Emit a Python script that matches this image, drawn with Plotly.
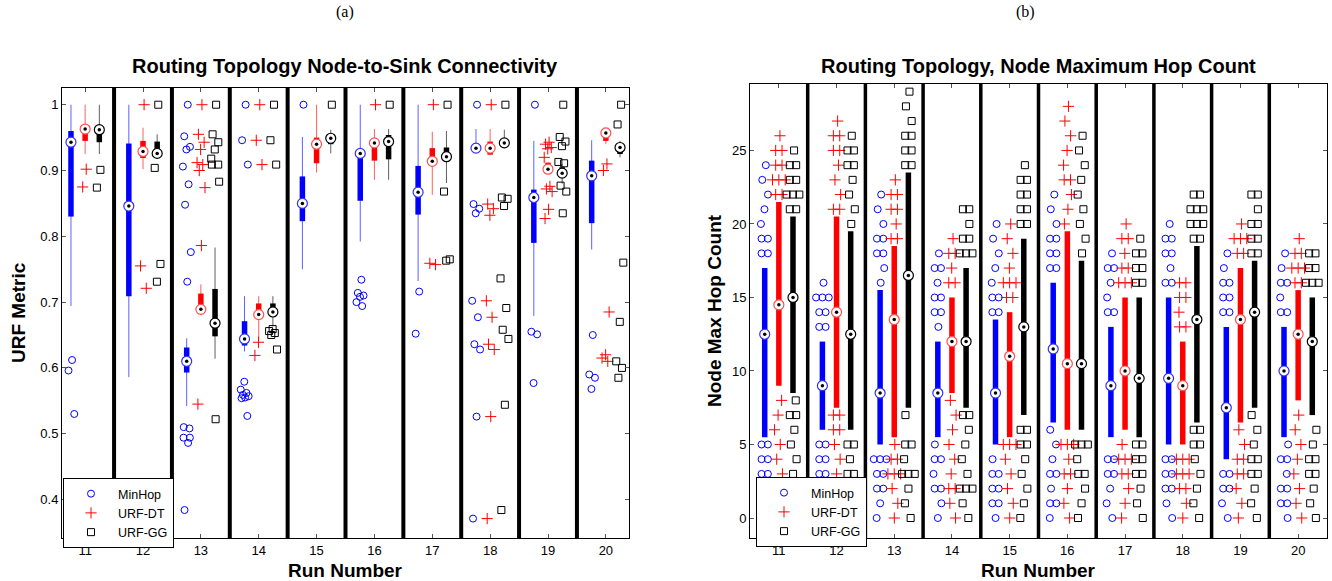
import plotly.graph_objects as go

# ---------------- data ----------------
categories = [11, 12, 13, 14, 15, 16, 17, 18, 19, 20]
series_names = ["MinHop", "URF-DT", "URF-GG"]

# Panel (a): URF metric box statistics
a_minhop_upper = [1.0, 1.0, 0.645, 0.709, 0.951, 1.0, 1.0, 0.963, 0.945, 0.946]
a_minhop_q3 = [0.960, 0.941, 0.631, 0.671, 0.891, 0.926, 0.907, 0.941, 0.871, 0.915]
a_minhop_med = [0.943, 0.846, 0.610, 0.644, 0.850, 0.926, 0.867, 0.934, 0.859, 0.892]
a_minhop_q1 = [0.830, 0.709, 0.593, 0.634, 0.823, 0.854, 0.833, 0.929, 0.790, 0.820]
a_minhop_lower = [0.694, 0.586, 0.542, 0.625, 0.750, 0.792, 0.732, 0.929, 0.679, 0.780]
a_minhop_out = [
    [0.612, 0.596, 0.530],
    [],
    [1.0, 0.952, 0.936, 0.932, 0.906, 0.879, 0.848, 0.776, 0.731, 0.510, 0.508, 0.494, 0.494, 0.486, 0.384],
    [1.0, 0.946, 0.909, 0.579, 0.567, 0.562, 0.559, 0.557, 0.555, 0.554, 0.527],
    [1.0],
    [0.734, 0.714, 0.710, 0.708, 0.700, 0.694],
    [0.716, 0.652],
    [1.0, 0.849, 0.842, 0.835, 0.702, 0.677, 0.636, 0.628, 0.526, 0.371],
    [1.0, 0.655, 0.651, 0.577],
    [0.650, 0.590, 0.585, 0.568],
]

a_dt_upper = [1.0, 0.965, 0.727, 0.709, 1.0, 0.963, 0.959, 0.963, 0.912, 0.965]
a_dt_q3 = [0.968, 0.945, 0.713, 0.698, 0.950, 0.949, 0.934, 0.944, 0.912, 0.965]
a_dt_med = [0.963, 0.929, 0.689, 0.681, 0.940, 0.942, 0.914, 0.934, 0.902, 0.957]
a_dt_q1 = [0.945, 0.919, 0.688, 0.681, 0.911, 0.915, 0.910, 0.924, 0.898, 0.945]
a_dt_lower = [0.925, 0.902, 0.680, 0.642, 0.897, 0.886, 0.863, 0.924, 0.898, 0.940]
a_dt_out = [
    [0.902, 0.875],
    [1.0, 0.755, 0.721],
    [1.0, 0.955, 0.943, 0.932, 0.912, 0.909, 0.900, 0.874, 0.786, 0.545],
    [1.0, 0.946, 0.909, 0.639, 0.619],
    [],
    [1.0],
    [1.0, 0.759, 0.757],
    [1.0, 0.849, 0.842, 0.832, 0.702, 0.677, 0.636, 0.628, 0.526, 0.371],
    [0.943, 0.940, 0.935, 0.933, 0.920, 0.876, 0.872, 0.868, 0.841, 0.827],
    [0.910, 0.900, 0.685, 0.620, 0.615, 0.610],
]

a_gg_upper = [1.0, 0.955, 0.783, 0.709, 0.962, 0.963, 0.960, 0.962, 0.910, 0.945]
a_gg_q3 = [0.968, 0.944, 0.720, 0.698, 0.951, 0.954, 0.935, 0.945, 0.905, 0.940]
a_gg_med = [0.962, 0.926, 0.668, 0.685, 0.949, 0.944, 0.921, 0.942, 0.896, 0.935]
a_gg_q1 = [0.943, 0.926, 0.648, 0.684, 0.940, 0.917, 0.914, 0.940, 0.890, 0.925]
a_gg_lower = [0.925, 0.926, 0.614, 0.663, 0.926, 0.886, 0.881, 0.938, 0.880, 0.920]
a_gg_out = [
    [0.901, 0.874],
    [1.0, 0.904, 0.758, 0.731],
    [1.0, 0.955, 0.943, 0.932, 0.918, 0.909, 0.909, 0.883, 0.522],
    [1.0, 0.946, 0.909, 0.659, 0.656, 0.653, 0.650, 0.628],
    [1.0],
    [1.0],
    [1.0, 0.868, 0.765, 0.763],
    [1.0, 0.859, 0.857, 0.846, 0.736, 0.691, 0.658, 0.644, 0.544, 0.384],
    [1.0, 0.951, 0.944, 0.937, 0.913, 0.911, 0.877, 0.868, 0.835],
    [1.0, 0.970, 0.760, 0.670, 0.610, 0.600, 0.585],
]

# Panel (b): node max hop count box statistics
b_minhop_q3 = [17, 12, 15.5, 12, 13.5, 16, 13, 15, 13, 13]
b_minhop_med = [12.5, 9, 8.5, 8.5, 8.5, 11.5, 9, 9.5, 7.5, 10]
b_minhop_q1 = [5.5, 6, 5, 5.5, 5, 6.5, 5.5, 5, 4, 5.5]
b_minhop_out = [
    [24, 23, 22, 21, 20, 19, 19, 18, 18, 5, 5, 4, 4, 3, 3],
    [16, 15, 15, 15, 14, 14, 13, 13, 5, 5, 4, 4, 3, 3],
    [22, 21, 20, 19, 19, 18, 18, 17, 16, 4, 4, 4, 3, 3, 2, 2, 1, 0],
    [18, 17, 17, 16, 15, 15, 14, 14, 13, 5, 4, 4, 3, 2, 2, 1, 0],
    [20, 19, 18, 17, 16, 15, 15, 14, 14, 4, 3, 3, 2, 2, 1, 1, 0],
    [22, 21, 20, 19, 19, 18, 18, 17, 17, 6, 5, 4, 3, 3, 2, 1, 1, 0],
    [18, 17, 17, 16, 15, 14, 14, 4, 4, 3, 3, 2, 1, 0],
    [20, 19, 19, 18, 18, 17, 16, 16, 4, 4, 3, 3, 2, 2, 1, 0],
    [18, 17, 16, 16, 15, 15, 14, 14, 3, 3, 2, 2, 1, 0],
    [18, 17, 16, 16, 15, 14, 14, 5, 4, 4, 3, 2, 2, 1, 1, 0],
]

b_dt_q3 = [21.5, 20.5, 18.5, 15, 14, 19.5, 15, 12, 17, 15.5]
b_dt_med = [14.5, 14, 13.5, 12, 11, 10.5, 10, 9, 13.5, 12.5]
b_dt_q1 = [9, 7.5, 5.5, 8.5, 5.5, 6, 6, 5, 6.5, 8]
b_dt_out = [
    [26, 25, 25, 24, 24, 23, 23, 23, 22, 22, 8, 7, 6, 5, 4, 3],
    [27, 26, 26, 25, 25, 24, 23, 22, 21, 21, 7, 7, 6, 6, 5, 4, 3],
    [23, 22, 22, 21, 21, 20, 19, 19, 5, 4, 4, 3, 3, 3, 2, 1, 0],
    [19, 18, 18, 17, 16, 16, 8, 7, 6, 5, 4, 3, 2, 2, 1, 0],
    [20, 19, 18, 17, 16, 16, 16, 15, 15, 5, 5, 5, 4, 3, 2, 1, 0],
    [28, 27, 26, 25, 24, 23, 23, 22, 21, 20, 5, 5, 5, 4, 3, 3, 2, 1, 0],
    [20, 19, 19, 18, 17, 17, 16, 16, 16, 5, 4, 4, 4, 3, 3, 2, 1, 0],
    [16, 16, 15, 15, 14, 13, 13, 4, 4, 4, 3, 3, 3, 2, 2, 1, 0],
    [20, 19, 19, 19, 18, 18, 6, 5, 4, 4, 3, 3, 2, 1, 0],
    [19, 18, 18, 17, 17, 17, 16, 16, 7, 6, 5, 4, 3, 2, 1, 0],
]

b_gg_q3 = [20.5, 19.5, 23.5, 17, 19, 17.5, 15, 18.5, 17.5, 15]
b_gg_med = [15, 12.5, 16.5, 12, 13, 10.5, 9.5, 13.5, 14, 12]
b_gg_q1 = [8.5, 6, 7.5, 7.5, 7, 6, 5.5, 6.5, 7.5, 7]
b_gg_out = [
    [25, 24, 24, 23, 23, 22, 22, 22, 21, 21, 8, 7, 7, 6, 5, 4, 3],
    [26, 25, 25, 24, 24, 23, 22, 21, 20, 5, 5, 4, 3, 3],
    [29, 28, 27, 26, 26, 25, 25, 24, 24, 7, 5, 5, 4, 3, 3, 3, 2, 1, 0],
    [21, 21, 20, 19, 19, 18, 18, 18, 7, 7, 6, 5, 4, 3, 2, 2, 2, 1, 0],
    [24, 23, 23, 22, 22, 21, 21, 20, 20, 6, 6, 5, 5, 4, 3, 2, 1, 0],
    [26, 25, 24, 23, 22, 21, 20, 19, 18, 5, 5, 5, 4, 3, 3, 2, 1, 0],
    [19, 18, 18, 17, 17, 16, 16, 5, 5, 4, 4, 3, 3, 2, 1, 0],
    [22, 22, 21, 21, 21, 20, 20, 20, 19, 19, 6, 6, 5, 5, 4, 3, 2, 1, 0],
    [22, 22, 21, 20, 20, 19, 19, 18, 18, 7, 6, 5, 4, 4, 3, 3, 2, 1, 0],
    [18, 18, 17, 17, 16, 16, 16, 6, 5, 4, 4, 3, 3, 2, 1, 0],
]

# ---------------- styling ----------------
W, H = 1332, 581
FONT = "Arial, 'Liberation Sans', sans-serif"
SERIF = "'Times New Roman', 'Liberation Serif', serif"
colors = {"MinHop": "#0000ff", "URF-DT": "#ff0000", "URF-GG": "#000000"}
whisker_colors = {"MinHop": "#6060ff", "URF-DT": "#ff6060", "URF-GG": "#606060"}
ring_colors = {"MinHop": "#3030ff", "URF-DT": "#ff5050", "URF-GG": "#000000"}
symbols = {"MinHop": "circle-open", "URF-DT": "cross-thin", "URF-GG": "square-open"}
offsets = {"MinHop": -0.245, "URF-DT": 0.0, "URF-GG": 0.245}

panel_a = {
    "MinHop": (a_minhop_upper, a_minhop_q3, a_minhop_med, a_minhop_q1, a_minhop_lower, a_minhop_out),
    "URF-DT": (a_dt_upper, a_dt_q3, a_dt_med, a_dt_q1, a_dt_lower, a_dt_out),
    "URF-GG": (a_gg_upper, a_gg_q3, a_gg_med, a_gg_q1, a_gg_lower, a_gg_out),
}
panel_b = {
    "MinHop": (None, b_minhop_q3, b_minhop_med, b_minhop_q1, None, b_minhop_out),
    "URF-DT": (None, b_dt_q3, b_dt_med, b_dt_q1, None, b_dt_out),
    "URF-GG": (None, b_gg_q3, b_gg_med, b_gg_q1, None, b_gg_out),
}


def spread(values, base):
    counts = {}
    for v in values:
        counts[v] = counts.get(v, 0) + 1
    seen = {}
    xs = []
    for i, v in enumerate(values):
        n = counts[v]
        j = seen.get(v, 0)
        seen[v] = j + 1
        if n > 1:
            off = (j - (n - 1) / 2) * 0.11
        else:
            off = (((i + 1) * 0.618034) % 1 - 0.5) * 0.16
        xs.append(base + off)
    return xs


fig = go.Figure()


def add_panel(data, xa, ya, legend, box_w):
    for name in series_names:
        upper, q3, med, q1, lower, outs = data[name]
        off = offsets[name]
        if upper is not None:
            wx, wy = [], []
            for c, u, l in zip(categories, upper, lower):
                wx += [c + off, c + off, None]
                wy += [u, l, None]
            fig.add_trace(go.Scatter(x=wx, y=wy, mode="lines", xaxis=xa, yaxis=ya,
                                     line=dict(color=whisker_colors[name], width=1),
                                     showlegend=False, hoverinfo="skip"))
        bx, by = [], []
        for c, a, b in zip(categories, q3, q1):
            bx += [c + off, c + off, None]
            by += [a, b, None]
        fig.add_trace(go.Scatter(x=bx, y=by, mode="lines", xaxis=xa, yaxis=ya,
                                 line=dict(color=colors[name], width=box_w),
                                 showlegend=False, hoverinfo="skip"))
        ox, oy = [], []
        for c, vals in zip(categories, outs):
            ox += spread(vals, c + off)
            oy += vals
        mk = dict(symbol=symbols[name], size=7, color=colors[name],
                  line=dict(width=1, color=colors[name]))
        if name == "URF-DT":
            mk["size"] = 8
        fig.add_trace(go.Scatter(x=ox, y=oy, mode="markers", xaxis=xa, yaxis=ya,
                                 marker=mk, name=name, legend=legend,
                                 showlegend=True, hoverinfo="skip"))
        mx = [c + off for c in categories]
        fig.add_trace(go.Scatter(x=mx, y=med, mode="markers", xaxis=xa, yaxis=ya,
                                 marker=dict(symbol="circle", size=10, color="white",
                                             line=dict(width=1.2, color=ring_colors[name])),
                                 showlegend=False, hoverinfo="skip"))
        fig.add_trace(go.Scatter(x=mx, y=med, mode="markers", xaxis=xa, yaxis=ya,
                                 marker=dict(symbol="circle", size=3.5, color="black"),
                                 showlegend=False, hoverinfo="skip"))


add_panel(panel_a, "x", "y", "legend", 5.5)
add_panel(panel_b, "x2", "y2", "legend2", 5.5)

for c in categories[:-1]:
    fig.add_shape(type="line", xref="x", yref="y domain", x0=c + 0.5, x1=c + 0.5, y0=0, y1=1,
                  line=dict(color="black", width=4), layer="above")
    fig.add_shape(type="line", xref="x2", yref="y2 domain", x0=c + 0.5, x1=c + 0.5, y0=0, y1=1,
                  line=dict(color="black", width=3.5), layer="above")

axis_common = dict(showline=True, mirror="ticks", ticks="inside", ticklen=4,
                   linecolor="black", linewidth=1, tickcolor="#555", showgrid=False,
                   zeroline=False, automargin=False,
                   tickfont=dict(family=FONT, size=13, color="black"))

a_x0, a_x1 = 62 / W, 629 / W
b_x0, b_x1 = 750 / W, 1327 / W
y_bot = (H - 538) / H

fig.update_layout(
    template="none",
    width=W, height=H, margin=dict(l=0, r=0, t=0, b=0, autoexpand=False),
    paper_bgcolor="white", plot_bgcolor="white",
    font=dict(family=FONT, color="black", size=13),
    xaxis=dict(domain=[a_x0, a_x1], range=[10.6, 20.4], anchor="y",
               tickvals=categories, ticktext=[str(c) for c in categories], **axis_common),
    yaxis=dict(domain=[y_bot, (H - 88) / H], range=[0.3415, 1.0254], anchor="x",
               tickvals=[0.4, 0.5, 0.6, 0.7, 0.8, 0.9, 1.0],
               ticktext=["0.4", "0.5", "0.6", "0.7", "0.8", "0.9", "1"], **axis_common),
    xaxis2=dict(domain=[b_x0, b_x1], range=[10.5, 20.5], anchor="y2",
                tickvals=categories, ticktext=[str(c) for c in categories], **axis_common),
    yaxis2=dict(domain=[y_bot, (H - 84) / H], range=[-1.36, 29.52], anchor="x2",
                tickvals=[0, 5, 10, 15, 20, 25], **axis_common),
    legend=dict(x=63 / W, y=(H - 478) / H, xanchor="left", yanchor="top",
                bgcolor="white", bordercolor="black", borderwidth=1,
                font=dict(family=FONT, size=12.5, color="black"), tracegroupgap=0,
                itemwidth=44),
    legend2=dict(x=756 / W, y=(H - 477) / H, xanchor="left", yanchor="top",
                 bgcolor="white", bordercolor="black", borderwidth=1,
                 font=dict(family=FONT, size=12.5, color="black"), tracegroupgap=0,
                 itemwidth=44),
    showlegend=True,
)


def label(text, x, y, size, family=FONT, angle=0):
    return dict(text=text, x=x / W, y=(H - y) / H, xref="paper", yref="paper",
                xanchor="center", yanchor="middle", showarrow=False, textangle=angle,
                font=dict(family=family, size=size, color="black"))


ann = [
    label("(a)", 345, 12, 16, SERIF),
    label("(b)", 1025, 12, 16, SERIF),
    label("<b>Routing Topology Node-to-Sink Connectivity</b>", 345, 66, 20),
    label("<b>Routing Topology, Node Maximum Hop Count</b>", 1038, 66, 20),
    label("<b>URF Metric</b>", 18, 313, 19, angle=-90),
    label("<b>Node Max Hop Count</b>", 714, 311, 19, angle=-90),
    label("<b>Run Number</b>", 345, 570, 19),
    label("<b>Run Number</b>", 1038, 570, 19),
]
fig.update_layout(annotations=ann)

fig.write_html("out.html", config={"displayModeBar": False},
               post_script="document.body.style.margin='0';document.body.style.padding='0';")
